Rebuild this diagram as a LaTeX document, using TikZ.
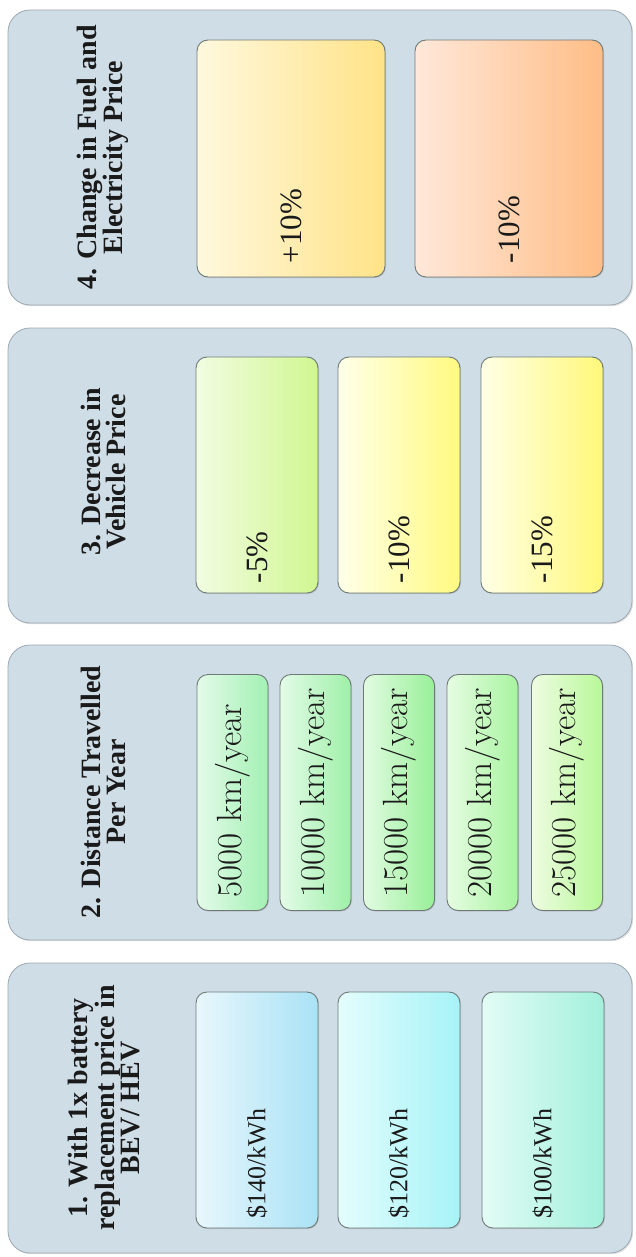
\documentclass[tikz,border=0pt]{standalone}
\usepackage{fontspec}
\newfontfamily\tnr{Liberation Serif}
\usetikzlibrary{shadows}

\definecolor{panelfill}{HTML}{CFDDE7}
\definecolor{panelline}{HTML}{9EA9B2}
\definecolor{cardline}{HTML}{6F7A76}
\definecolor{ink}{HTML}{1A1A1A}
% gradient end colours of the cards (pale side, saturated side)
\definecolor{plusA}{HTML}{FFF8DE}   \definecolor{plusB}{HTML}{FFE387}
\definecolor{minusA}{HTML}{FFE8DA}  \definecolor{minusB}{HTML}{FFBD86}
\definecolor{limeA}{HTML}{F2FCE2}   \definecolor{limeB}{HTML}{D0F790}
\definecolor{yelA}{HTML}{FFFFEA}    \definecolor{yelB}{HTML}{FFFA80}
\definecolor{yelC}{HTML}{FFFFE6}    \definecolor{yelD}{HTML}{FFF87A}
\definecolor{grA}{HTML}{E4FBEA}     \definecolor{grB}{HTML}{A2F0B2}
\definecolor{grC}{HTML}{E4FBE8}     \definecolor{grD}{HTML}{9EF0A8}
\definecolor{grE}{HTML}{E2FBE2}     \definecolor{grF}{HTML}{98F098}
\definecolor{grG}{HTML}{E6FCE2}     \definecolor{grH}{HTML}{A8F4A0}
\definecolor{grI}{HTML}{EEFCE2}     \definecolor{grJ}{HTML}{B8F898}
\definecolor{blA}{HTML}{E8F7FC}     \definecolor{blB}{HTML}{A9E2F6}
\definecolor{cyA}{HTML}{E4FDFD}     \definecolor{cyB}{HTML}{A6F3F7}
\definecolor{aqA}{HTML}{E2FCF5}     \definecolor{aqB}{HTML}{A3F0DC}

\tikzset{
  panel/.style={draw=panelline, line width=0.8pt, fill=panelfill,
    rounded corners=22pt, minimum width=624pt, inner sep=0pt,
    drop shadow={shadow xshift=1.2pt, shadow yshift=-1.2pt, opacity=0.25}},
  card/.style={draw=cardline, line width=0.9pt, rounded corners=11pt,
    minimum height=236pt, inner sep=0pt,
    drop shadow={shadow xshift=1pt, shadow yshift=-1pt, opacity=0.3}},
  wide/.style={card, minimum width=122pt},
  slim/.style={card, minimum width=71pt},
  big/.style={card, minimum width=188pt, minimum height=237pt},
  heading/.style={rotate=90, align=center, text=ink,
    font=\tnr\bfseries\fontsize{28}{25}\selectfont},
  cardtext/.style={rotate=90, anchor=west, inner sep=0pt, text=ink},
  pct/.style={cardtext, font=\tnr\fontsize{31}{31}\selectfont},
  price/.style={cardtext, font=\tnr\fontsize{26}{26}\selectfont},
  dist/.style={cardtext, font=\fontsize{35}{35}\selectfont},
}

\begin{document}
\begin{tikzpicture}[x=1pt, y=-1pt]
\useasboundingbox (0,0) rectangle (635,1257);
\fill[white] (0,0) rectangle (635,1257);

% outer panels, one per scenario group
\node[panel, minimum height=295pt] (p4) at (320,157.5) {};
\node[panel, minimum height=295pt] (p3) at (320,475.5) {};
\node[panel, minimum height=295pt] (p2) at (320,792.5) {};
\node[panel, minimum height=290pt] (p1) at (320,1108) {};

% group headings
\node[heading] (h4) at (103,157.5) {4. Change in Fuel and\\Electricity Price};
\node[heading] (h3) at (103,472) {3. Decrease in\\Vehicle Price};
\node[heading] (h2) at (103,792) {2. Distance Travelled\\Per Year};
\node[heading] (h1) at (104,1108) {1. With 1x battery\\replacement price in\\BEV/ HEV};

% group 4: fuel and electricity price
\node[big, left color=plusA, right color=plusB] (c41) at (291,158.5) {};
\node[big, left color=minusA, right color=minusB] (c42) at (509,158.5) {};
\node[pct] (t41) at ([yshift=14pt]c41.south) {+10\%};
\node[pct] (t42) at ([yshift=14pt]c42.south) {-10\%};

% group 3: vehicle price
\node[wide, left color=limeA, right color=limeB] (c31) at (257,475) {};
\node[wide, left color=yelA, right color=yelB] (c32) at (399,475) {};
\node[wide, left color=yelC, right color=yelD] (c33) at (542,475) {};
\node[pct] (t31) at ([yshift=10pt]c31.south) {-5\%};
\node[pct] (t32) at ([yshift=10pt]c32.south) {-10\%};
\node[pct] (t33) at ([yshift=10pt]c33.south) {-15\%};

% group 2: distance travelled
\node[slim, left color=grA, right color=grB] (c21) at (232.5,792.5) {};
\node[slim, left color=grC, right color=grD] (c22) at (315.5,792.5) {};
\node[slim, left color=grE, right color=grF] (c23) at (399,792.5) {};
\node[slim, left color=grG, right color=grH] (c24) at (482.5,792.5) {};
\node[slim, left color=grI, right color=grJ] (c25) at (567,792.5) {};
\node[dist] (t21) at ([yshift=13pt]c21.south) {5000 km/year};
\node[dist] (t22) at ([yshift=13pt]c22.south) {10000 km/year};
\node[dist] (t23) at ([yshift=13pt]c23.south) {15000 km/year};
\node[dist] (t24) at ([yshift=13pt]c24.south) {20000 km/year};
\node[dist] (t25) at ([yshift=13pt]c25.south) {25000 km/year};

% group 1: battery replacement price
\node[wide, left color=blA, right color=blB] (c11) at (257,1110) {};
\node[wide, left color=cyA, right color=cyB] (c12) at (399,1110) {};
\node[wide, left color=aqA, right color=aqB] (c13) at (543,1110) {};
\node[price] (t11) at ([yshift=10pt]c11.south) {\$140/kWh};
\node[price] (t12) at ([yshift=10pt]c12.south) {\$120/kWh};
\node[price] (t13) at ([yshift=10pt]c13.south) {\$100/kWh};
\end{tikzpicture}
\end{document}
